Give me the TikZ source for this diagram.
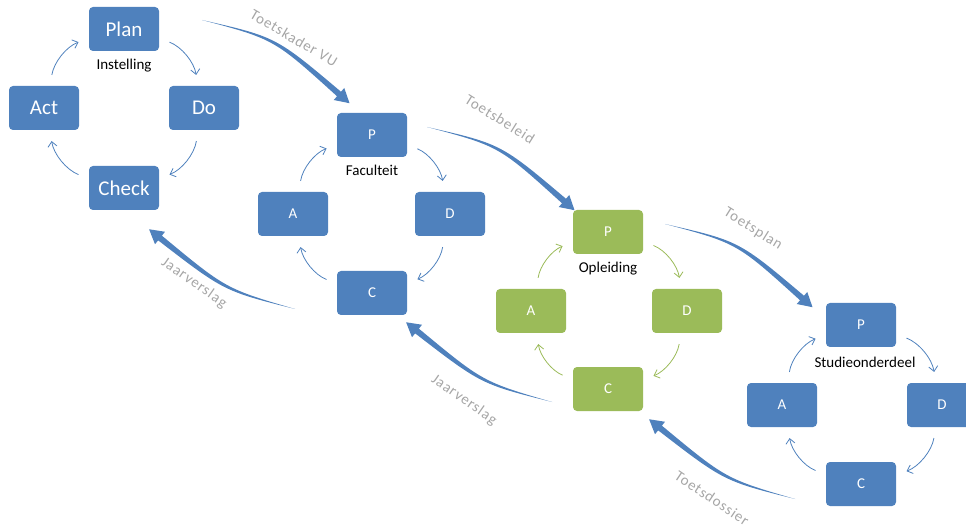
\documentclass[tikz,border=0pt]{standalone}
\usepackage{fontspec}
\setmainfont{Carlito}
\newfontfamily\spaced[LetterSpace=6]{Carlito}
\usetikzlibrary{positioning,calc,arrows.meta}

\definecolor{boxblue}{HTML}{4F81BD}
\definecolor{boxgreen}{HTML}{9BBB59}
\definecolor{flowgray}{HTML}{A6A6A6}

\tikzset{
	box/.style={fill=#1, rounded corners=4pt, minimum width=70pt, minimum height=44pt, text=white, font=\fontsize{15}{18}\selectfont},
	box/.default=boxblue,
	bigbox/.style={box, font=\fontsize{21}{25}\selectfont},
	level/.style={inner sep=0pt, font=\fontsize{15}{18}\selectfont},
	turn/.style={draw=#1, line width=0.8pt, -{Straight Barb[length=5pt,width=9pt]}, bend left=30, shorten <=11pt, shorten >=11pt},
	turn/.default=boxblue,
	flow/.style={text=flowgray, font=\spaced\fontsize{15}{18}\selectfont}
}

\begin{document}
\begin{tikzpicture}[x=1pt, y=-1pt]

	% Definition
	
	\def\fatarrow#1#2#3{% tail, bend, head base
		\fill [boxblue] (#1) .. controls ($(#2)!1.5pt!-90:(#3)$) .. ($(#3)!3pt!90:(#2)$) -- ($(#3)!8pt!90:(#2)$) -- ($(#3)!-14pt!(#2)$) -- ($(#3)!8pt!-90:(#2)$) -- ($(#3)!3pt!-90:(#2)$) .. controls ($(#2)!1.5pt!90:(#3)$) .. (#1) -- cycle;}
	
	\useasboundingbox (0, 0) rectangle (966, 526);
	\clip (0, 0) rectangle (966, 526);
	
	% Instelling
	
	\node [bigbox] (plan) at (124, 29) {Plan};
	\node [bigbox] (do) at (204, 108) {Do};
	\node [bigbox] (check) at (124, 188) {Check};
	\node [bigbox] (act) at (44, 108) {Act};
	\node [level, below=8pt of plan] (inst) {Instelling};
	
	% Faculteit
	
	\node [box] (fp) at (372, 135) {P};
	\node [box] (fd) at (450, 214) {D};
	\node [box] (fc) at (372, 293) {C};
	\node [box] (fa) at (293, 214) {A};
	\node [level, below=8pt of fp] (fac) {Faculteit};
	
	% Opleiding
	
	\node [box=boxgreen] (op) at (608, 232) {P};
	\node [box=boxgreen] (od) at (687, 311) {D};
	\node [box=boxgreen] (oc) at (608, 389) {C};
	\node [box=boxgreen] (oa) at (531, 311) {A};
	\node [level, below=8pt of op] (opl) {Opleiding};
	
	% Studieonderdeel
	
	\node [box] (sp) at (861, 325) {P};
	\node [box] (sd) at (942, 405) {D};
	\node [box] (sc) at (861, 484) {C};
	\node [box] (sa) at (782, 405) {A};
	\node [level, below=10pt of sp, xshift=4pt] (stud) {Studieonderdeel};
	
	% PDCA turns
	
	\foreach \p/\d/\c/\a/\col in {plan/do/check/act/boxblue, fp/fd/fc/fa/boxblue, op/od/oc/oa/boxgreen, sp/sd/sc/sa/boxblue} {
		\draw [turn=\col] (\p) to (\d);
		\draw [turn=\col] (\d) to (\c);
		\draw [turn=\col] (\c) to (\a);
		\draw [turn=\col] (\a) to (\p);
	}
	
	% Flows down
	
	\coordinate (vu-s) at (202, 20);
	\coordinate (vu-c) at (275, 38);
	\coordinate (vu-b) at (339, 94);
	\coordinate (tb-s) at (427, 127);
	\coordinate (tb-c) at (500, 145);
	\coordinate (tb-b) at (564, 201);
	\coordinate (tp-s) at (665, 224);
	\coordinate (tp-c) at (738, 242);
	\coordinate (tp-b) at (802, 298);
	
	\fatarrow{vu-s}{vu-c}{vu-b}
	\fatarrow{tb-s}{tb-c}{tb-b}
	\fatarrow{tp-s}{tp-c}{tp-b}
	
	\node [flow, rotate=-30] (vu) at (294, 38) {Toetskader VU};
	\node [flow, rotate=-32] (tbl) at (500, 119) {Toetsbeleid};
	\node [flow, rotate=-32] (tpl) at (753, 229) {Toetsplan};
	
	% Flows up
	
	\coordinate (j1-s) at (295, 309);
	\coordinate (j1-c) at (225, 290);
	\coordinate (j1-b) at (160, 238);
	\coordinate (j2-s) at (552, 402);
	\coordinate (j2-c) at (482, 383);
	\coordinate (j2-b) at (417, 331);
	\coordinate (td-s) at (795, 499);
	\coordinate (td-c) at (725, 480);
	\coordinate (td-b) at (660, 428);
	
	\fatarrow{j1-s}{j1-c}{j1-b}
	\fatarrow{j2-s}{j2-c}{j2-b}
	\fatarrow{td-s}{td-c}{td-b}
	
	\node [flow, rotate=-35] (jv1) at (194, 283) {Jaarverslag};
	\node [flow, rotate=-35] (jv2) at (464, 400) {Jaarverslag};
	\node [flow, rotate=-34] (tds) at (712, 498) {Toetsdossier};

\end{tikzpicture}
\end{document}
